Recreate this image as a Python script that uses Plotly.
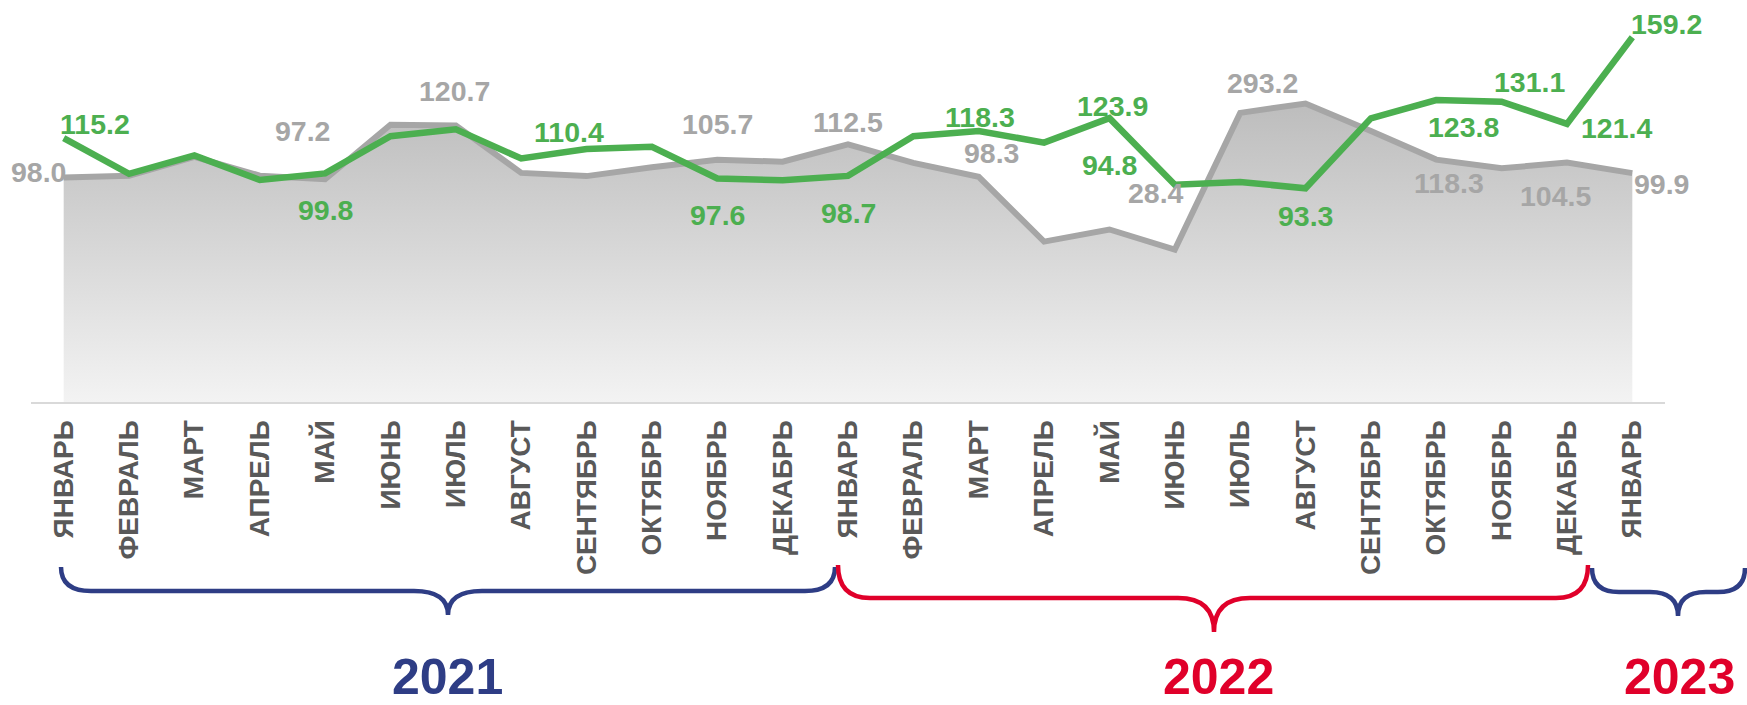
import plotly.graph_objects as go

# ---------------- data ----------------
tick_labels = ["ЯНВАРЬ", "ФЕВРАЛЬ", "МАРТ", "АПРЕЛЬ", "МАЙ", "ИЮНЬ", "ИЮЛЬ", "АВГУСТ",
               "СЕНТЯБРЬ", "ОКТЯБРЬ", "НОЯБРЬ", "ДЕКАБРЬ",
               "ЯНВАРЬ", "ФЕВРАЛЬ", "МАРТ", "АПРЕЛЬ", "МАЙ", "ИЮНЬ", "ИЮЛЬ", "АВГУСТ",
               "СЕНТЯБРЬ", "ОКТЯБРЬ", "НОЯБРЬ", "ДЕКАБРЬ",
               "ЯНВАРЬ"]
x_idx = list(range(len(tick_labels)))

gray_values = [98.0, 98.8, 107.0, 98.8, 97.2, 121.0, 120.7, 100.0, 98.6, 102.5, 105.7, 104.9,
               112.5, 104.4, 98.3, 70.0, 75.3, 66.5, 126.2, 130.3, 118.3, 105.8, 102.0, 104.5,
               99.9]
green_values = [115.2, 99.6, 107.6, 96.9, 99.8, 116.0, 119.0, 106.3, 110.4, 111.4, 97.6, 96.8,
                98.7, 116.0, 118.3, 113.2, 123.9, 94.8, 96.0, 93.3, 123.8, 131.8, 131.1, 121.4,
                159.2]

# data labels: month index -> text
gray_labels = {0: "98.0", 4: "97.2", 6: "120.7", 10: "105.7", 12: "112.5", 14: "98.3",
               17: "28.4", 18: "293.2", 20: "118.3", 23: "104.5", 24: "99.9"}
green_labels = {0: "115.2", 4: "99.8", 8: "110.4", 10: "97.6", 12: "98.7", 14: "118.3",
                16: "123.9", 17: "94.8", 19: "93.3", 20: "123.8", 22: "131.1", 23: "121.4",
                24: "159.2"}

years = ["2021", "2022", "2023"]

# ---------------- styling / layout ----------------
W, H = 1747, 705
ML, MR, MT, MB = 31, 82, 0, 303
PW, PH = W - ML - MR, H - MT - MB
Y_MAX = PH / 2.291

GRAY = "#a6a6a6"
GREEN = "#4caf50"
BLUE = "#2e3d85"
RED = "#e0002a"
FONT = "Arial, Liberation Sans, sans-serif"

# label pixel offsets (dx right, dy down)
gray_shift = {0: (-25, -5), 4: (-23, -48), 6: (-1, -34), 10: (0, -36), 12: (0, -22),
              14: (13, -24), 17: (-19, -57), 18: (22, -30), 20: (78, 52), 23: (-11, 33),
              24: (29, 11)}
green_shift = {0: (31, -14), 4: (0, 37), 8: (-18, -17), 10: (0, 37), 12: (0, 37),
               14: (1, -14), 16: (3, -12), 17: (-65, -20), 19: (0, 28), 20: (93, 9),
               22: (28, -20), 23: (50, 4), 24: (34, -13)}

fig = go.Figure()
fig.add_trace(go.Scatter(
    x=x_idx, y=gray_values, mode="lines",
    line=dict(color=GRAY, width=6),
    fill="tozeroy",
    fillgradient=dict(type="vertical", colorscale=[[0, "#f3f3f3"], [1, "#bdbdbd"]],
                      start=0, stop=130),
    hoverinfo="skip", showlegend=False))
fig.add_trace(go.Scatter(
    x=x_idx, y=green_values, mode="lines",
    line=dict(color=GREEN, width=6.5),
    hoverinfo="skip", showlegend=False))

annotations = []
for i, txt in gray_labels.items():
    dx, dy = gray_shift[i]
    annotations.append(dict(x=x_idx[i], y=gray_values[i], xref="x", yref="y", text=txt,
                            showarrow=False, xshift=dx, yshift=-dy,
                            font=dict(family=FONT, size=28.5, color=GRAY, weight="bold")))
for i, txt in green_labels.items():
    dx, dy = green_shift[i]
    annotations.append(dict(x=x_idx[i], y=green_values[i], xref="x", yref="y", text=txt,
                            showarrow=False, xshift=dx, yshift=-dy,
                            font=dict(family=FONT, size=28.5, color=GREEN, weight="bold")))


def pp(px, py):
    return (px - ML) / PW, (MT + PH - py) / PH


def brace_path(left, right, top, mid, tip_x, tip_y, r, t):
    pts = []
    def P(cmd, *xy):
        coords = []
        for k in range(0, len(xy), 2):
            a, b = pp(xy[k], xy[k + 1])
            coords.append(f"{a:.5f},{b:.5f}")
        pts.append(cmd + " " + " ".join(coords))
    P("M", left, top)
    P("Q", left, mid, left + r, mid)
    P("L", tip_x - t, mid)
    P("Q", tip_x, mid, tip_x, tip_y)
    P("Q", tip_x, mid, tip_x + t, mid)
    P("L", right - r, mid)
    P("Q", right, mid, right, top)
    return " ".join(pts)


braces = [  # left, right, top, mid, tip_x, tip_y, r, t
    (61, 835, 567, 591, 448, 615, 30, 34),
    (838, 1588, 565, 598, 1214, 632, 32, 36),
    (1592, 1745, 568, 592, 1678, 616, 27, 28),
]
brace_colors = [BLUE, RED, BLUE]
year_colors = [BLUE, RED, RED]
year_pos = [(447.5, 677), (1218, 677), (1680, 677)]

shapes = []
for b, c in zip(braces, brace_colors):
    shapes.append(dict(type="path", xref="paper", yref="paper", path=brace_path(*b),
                       line=dict(color=c, width=4.5), layer="above"))
for yr, c, (px, py) in zip(years, year_colors, year_pos):
    ax, ay = pp(px, py)
    annotations.append(dict(x=ax, y=ay, xref="paper", yref="paper", text=yr, showarrow=False,
                            xanchor="center", yanchor="middle", borderpad=0,
                            font=dict(family=FONT, size=50, color=c, weight="bold")))

fig.update_layout(
    width=W, height=H,
    margin=dict(l=ML, r=MR, t=MT, b=MB, pad=0),
    paper_bgcolor="white", plot_bgcolor="white",
    hovermode=False,
    annotations=annotations,
    shapes=shapes,
    xaxis=dict(range=[-0.5, len(tick_labels) - 0.5], tickmode="array", tickvals=x_idx,
               ticktext=tick_labels, tickangle=-90, showgrid=False, zeroline=False,
               showline=True, linecolor="#d9d9d9", linewidth=2, ticks="",
               ticklabelstandoff=5,
               tickfont=dict(family=FONT, size=28, color="#595959", weight="bold")),
    yaxis=dict(range=[0, Y_MAX], visible=False, showgrid=False, zeroline=False),
)

fig.write_html("out.html", config={"displayModeBar": False},
               post_script="document.body.style.margin='0';document.body.style.padding='0';")
